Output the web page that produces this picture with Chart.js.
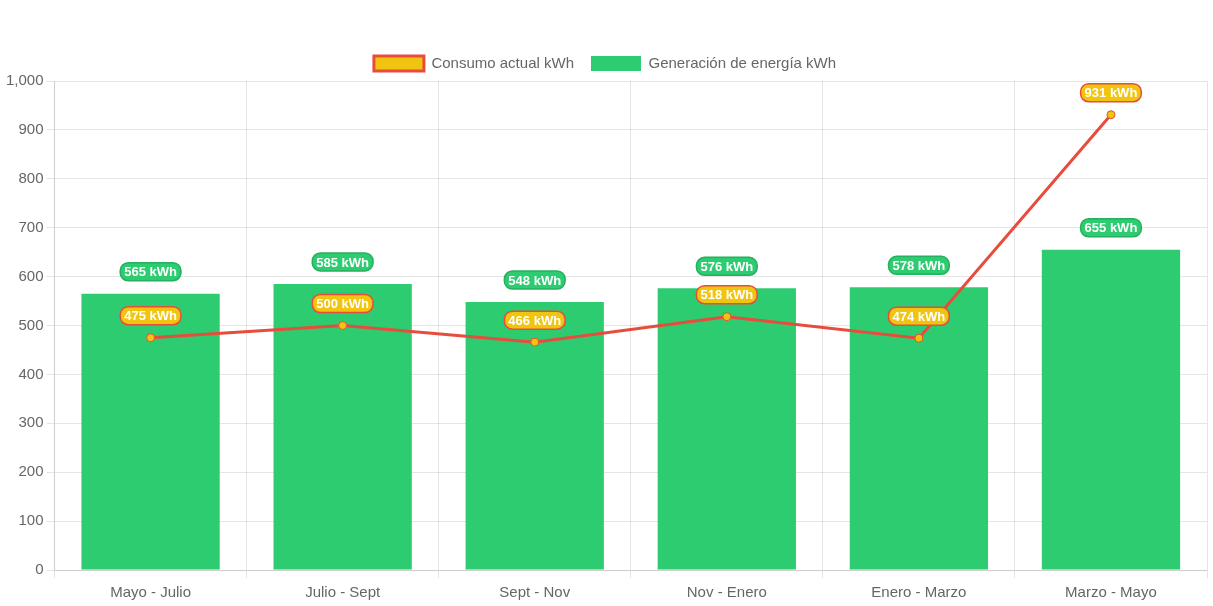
<!DOCTYPE html>
<html>
<head>
<meta charset="utf-8">
<script src="https://cdn.jsdelivr.net/npm/chart.js@4"></script>
<style>
html,body{margin:0;padding:0;background:#fff;}
#wrap{width:1213px;height:606px;position:relative;}
</style>
</head>
<body>
<div id="wrap"><canvas id="c"></canvas></div>
<script>
const categories = ['Mayo - Julio','Julio - Sept','Sept - Nov','Nov - Enero','Enero - Marzo','Marzo - Mayo'];
const consumo = [475, 500, 466, 518, 474, 931];
const generacion = [565, 585, 548, 576, 578, 655];
const yTicks = [0,100,200,300,400,500,600,700,800,900,1000];

Chart.defaults.font.family = 'Arial, "Liberation Sans", Helvetica, sans-serif';
Chart.defaults.font.size = 15;
Chart.defaults.color = '#666';

function roundRect(ctx, x, y, w, h, r){
  ctx.beginPath();
  ctx.moveTo(x+r, y);
  ctx.lineTo(x+w-r, y);
  ctx.arcTo(x+w, y, x+w, y+r, r);
  ctx.lineTo(x+w, y+h-r);
  ctx.arcTo(x+w, y+h, x+w-r, y+h, r);
  ctx.lineTo(x+r, y+h);
  ctx.arcTo(x, y+h, x, y+h-r, r);
  ctx.lineTo(x, y+r);
  ctx.arcTo(x, y, x+r, y, r);
  ctx.closePath();
}

const labelPlugin = {
  id: 'valueLabels',
  afterDatasetsDraw(chart){
    const ctx = chart.ctx;
    const idxs = [1, 0];
    idxs.forEach(i => {
      const ds = chart.data.datasets[i];
      const meta = chart.getDatasetMeta(i);
      meta.data.forEach((el, j) => {
        const text = ds.data[j] + ' kWh';
        const p = el.getProps(['x','y'], true);
        ctx.save();
        ctx.font = 'bold 13px Arial, "Liberation Sans", sans-serif';
        const tw = ctx.measureText(text).width;
        const w = tw + 8, h = 18;
        const cx = p.x, cy = p.y - 22;
        roundRect(ctx, cx - w/2, cy - h/2, w, h, 8);
        ctx.fillStyle = ds.labelBg;
        ctx.fill();
        ctx.lineWidth = 1.5;
        ctx.strokeStyle = ds.labelBorder;
        ctx.stroke();
        ctx.fillStyle = '#fff';
        ctx.textAlign = 'center';
        ctx.textBaseline = 'middle';
        ctx.fillText(text, cx, cy + 1);
        ctx.restore();
      });
    });
  }
};

new Chart(document.getElementById('c'), {
  type: 'bar',
  data: {
    labels: categories,
    datasets: [
      {
        type: 'line',
        label: 'Consumo actual kWh',
        data: consumo,
        borderColor: '#e74c3c',
        backgroundColor: '#f1c40f',
        borderWidth: 3,
        pointRadius: 4,
        pointHoverRadius: 4,
        pointBackgroundColor: '#f1c40f',
        pointBorderColor: '#e74c3c',
        pointBorderWidth: 1,
        tension: 0,
        fill: false,
        labelBg: '#f1c40f',
        labelBorder: '#e74c3c'
      },
      {
        type: 'bar',
        label: 'Generación de energía kWh',
        data: generacion,
        backgroundColor: '#2ecc71',
        borderWidth: 0,
        labelBg: '#2ecc71',
        labelBorder: '#27ae60'
      }
    ]
  },
  options: {
    responsive: true,
    maintainAspectRatio: false,
    animation: false,
    layout: { padding: { top: 39, right: 6, left: 3, bottom: -2 } },
    plugins: {
      legend: {
        position: 'top',
        labels: { boxWidth: 50, boxHeight: 15, padding: 17, font: { size: 15 } }
      },
      tooltip: { enabled: false }
    },
    scales: {
      x: {
        grid: { color: 'rgba(0,0,0,0.1)' },
        ticks: { font: { size: 15 }, padding: 6 }
      },
      y: {
        min: 0,
        max: 1000,
        afterBuildTicks(axis){ axis.ticks = yTicks.map(v => ({ value: v })); },
        grid: { color: 'rgba(0,0,0,0.1)' },
        ticks: { font: { size: 15 }, stepSize: 100 }
      }
    }
  },
  plugins: [labelPlugin]
});
</script>
</body>
</html>
